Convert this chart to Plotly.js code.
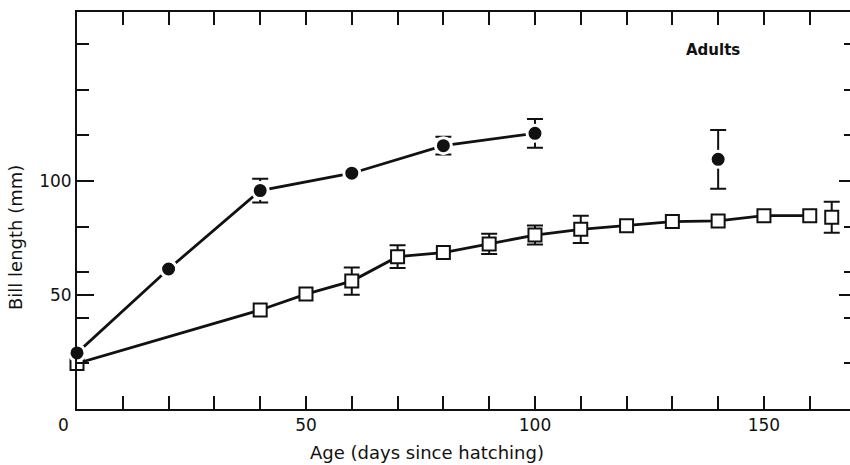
<!DOCTYPE html>
<html>
<head>
<meta charset="utf-8">
<script src="https://cdn.plot.ly/plotly-3.0.1.min.js"></script>
<style>
  html, body { margin: 0; padding: 0; overflow: hidden; background: #fff; }
  #chart { width: 856px; height: 465px; }
</style>
</head>
<body>
<div id="chart"></div>
<script>
// Chicks (filled circles): age in days, bill length (mm), SE
const chickAge   = [0, 20, 40, 60, 80, 100];
const chickBill  = [24.6, 61.4, 95.8, 103.4, 115.5, 120.9];
const chickErr   = [NaN, NaN, 5.2, NaN, 3.9, 6.3];

// Adults (filled circle, unconnected)
const adultCircAge  = [140];
const adultCircBill = [109.5];
const adultCircErr  = [12.9];

// Open squares: age in days, bill length (mm), SE
const squareAge  = [0, 40, 50, 60, 70, 80, 90, 100, 110, 120, 130, 140, 150, 160];
const squareBill = [20.0, 43.4, 50.4, 56.1, 66.8, 68.6, 72.4, 76.3, 78.8, 80.4, 82.2, 82.5, 84.8, 84.8];
const squareErr  = [NaN, NaN, NaN, 6.0, 5.0, NaN, 4.4, 4.2, 6.0, NaN, NaN, NaN, NaN, NaN];

// Adults (open square, unconnected)
const adultSqAge  = [164.8];
const adultSqBill = [84.1];
const adultSqErr  = [6.8];

// Tick labels
const xTickVals = [0, 50, 100, 150];
const xTickText = ['0\u00a0\u00a0\u00a0\u00a0\u00a0', '50', '100', '150'];
const yTickVals = [50, 100];
const yTickText = ['50', '100'];
const yMinorVals = [20, 40, 60, 80, 120, 140, 160];

const INK = '#111';
const errStyle = (arr) => ({ type: 'data', array: arr, visible: true, color: INK, thickness: 2, width: 8 });

const squareMarker = { symbol: 'square', size: 13, color: '#fff', line: { color: INK, width: 2 } };
const circleMarker = { symbol: 'circle', size: 16, color: INK, line: { color: '#fff', width: 3 } };

const traces = [
  { x: squareAge, y: squareBill, mode: 'lines+markers', line: { color: INK, width: 2.8 },
    marker: squareMarker, error_y: errStyle(squareErr), cliponaxis: false, showlegend: false },
  { x: adultSqAge, y: adultSqBill, mode: 'markers',
    marker: squareMarker, error_y: errStyle(adultSqErr), cliponaxis: false, showlegend: false },
  { x: chickAge, y: chickBill, mode: 'lines+markers', line: { color: INK, width: 2.8 },
    marker: circleMarker, error_y: errStyle(chickErr), cliponaxis: false, showlegend: false },
  { x: adultCircAge, y: adultCircBill, mode: 'markers',
    marker: circleMarker, error_y: errStyle(adultCircErr), cliponaxis: false, showlegend: false }
];

const layout = {
  width: 856, height: 465,
  margin: { l: 77, r: 0, t: 12, b: 56, pad: 0 },
  paper_bgcolor: '#fff', plot_bgcolor: '#fff',
  font: { family: 'DejaVu Sans, sans-serif', color: INK, size: 16 },
  showlegend: false,
  xaxis: {
    range: [0, 170.1], showgrid: false, zeroline: false,
    showline: true, linecolor: INK, linewidth: 2, mirror: 'ticks',
    ticks: 'inside', ticklen: 13, tickwidth: 2, tickcolor: INK,
    tickmode: 'array', tickvals: xTickVals, ticktext: xTickText,
    tickfont: { size: 17 },
    minor: { dtick: 10, tick0: 0, ticks: 'inside', ticklen: 13, tickwidth: 2, tickcolor: INK, showgrid: false }
  },
  yaxis: {
    range: [0, 174.1], showgrid: false, zeroline: false,
    showline: true, linecolor: INK, linewidth: 2, mirror: 'ticks',
    ticks: 'inside', ticklen: 17, tickwidth: 2, tickcolor: INK,
    tickmode: 'array', tickvals: yTickVals, ticktext: yTickText,
    tickfont: { size: 17 },
    minor: { tickmode: 'array', tickvals: yMinorVals, ticks: 'inside', ticklen: 12, tickwidth: 2, tickcolor: INK, showgrid: false }
  },
  annotations: [
    { text: 'Age (days since hatching)', xref: 'paper', yref: 'paper', x: 0.4487, y: -0.1108,
      xanchor: 'center', yanchor: 'middle', showarrow: false, font: { size: 18, color: INK } },
    { text: 'Bill length (mm)', xref: 'paper', yref: 'paper', x: -0.0796, y: 0.4332, textangle: -90,
      xanchor: 'center', yanchor: 'middle', showarrow: false, font: { size: 18, color: INK } },
    { text: '<b>Adults</b>', xref: 'paper', yref: 'paper', x: 0.8164, y: 0.904,
      xanchor: 'center', yanchor: 'middle', showarrow: false, font: { size: 15, color: INK } }
  ]
};

Plotly.newPlot('chart', traces, layout, { staticPlot: true, displayModeBar: false });
</script>
</body>
</html>
